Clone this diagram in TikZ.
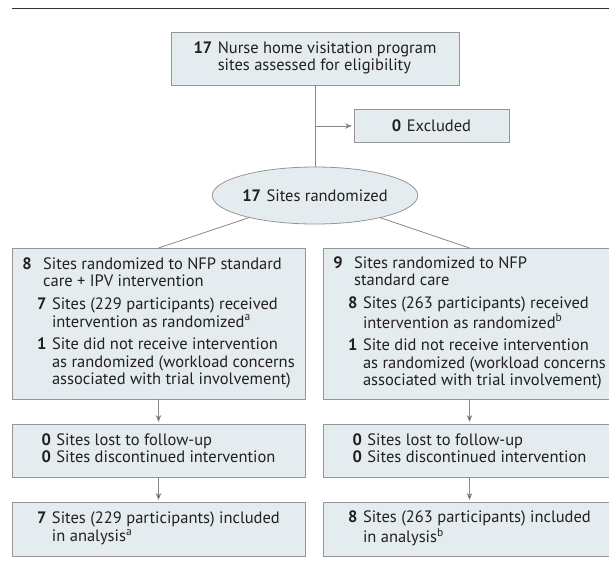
\documentclass[tikz,border=0pt]{standalone}
\usepackage{fontspec}
\setmainfont{PT Sans}
\usetikzlibrary{arrows.meta,positioning,shapes.geometric}

\definecolor{boxfill}{RGB}{229,236,240}
\definecolor{boxline}{RGB}{150,150,150}
\definecolor{flowline}{RGB}{135,135,135}
\definecolor{inktext}{RGB}{35,31,32}

\begin{document}
\begin{tikzpicture}[
	x = 1pt, y = 1pt,
	> = {Stealth[length=7pt, width=5.5pt]}, % arrow head style
	font = \fontsize{16.5}{17.7}\selectfont,
	B/.style={rectangle, draw=boxline, fill=boxfill, line width=0.8pt, inner sep=0pt, outer sep=0pt, minimum width=293pt, text=inktext},
	E/.style={ellipse, draw=boxline, fill=boxfill, line width=0.8pt, inner sep=0pt, outer sep=0pt, minimum width=204pt, minimum height=57pt, text=inktext},
	L/.style={draw=flowline, line width=0.8pt},
	A/.style={L, ->, shorten > = 2pt}, % don't touch arrow head to box
	]

	\useasboundingbox (0,0) rectangle (609,-573);
	\clip (0,0) rectangle (609,-573);

	% rule over the figure
	\coordinate (ruleA) at (12,-8.5);
	\coordinate (ruleB) at (609,-8.5);
	\draw[line width=1.6pt, draw=black!80] (ruleA) -- (ruleB);

	% Nodes and their relative positions
	% enrollment
	\node[B, minimum width=288pt, minimum height=53pt] (elig) at (315,-58.5) {%
		\begin{tabular}{@{}l@{\hspace{5.5pt}}l@{}}
			\textbf{17} & Nurse home visitation program\\
			& sites assessed for eligibility
		\end{tabular}};
	\coordinate[below = 41pt of elig] (split);
	\node[B, minimum width=155pt, minimum height=33pt, anchor=west] (excl) [right = 39pt of split] {\textbf{0}\hspace{5.5pt}Excluded};
	\node[E] (rand) [below = 82pt of elig] {\textbf{17}\hspace{5.5pt}Sites randomized};

	% allocation
	\node[B, minimum height=151pt] (armL) [below = 24pt of rand, xshift=-156.5pt] {%
		\begin{tabular}{@{}l@{\hspace{5.5pt}}l@{\hspace{5.5pt}}l@{}}
			\textbf{8} & \multicolumn{2}{l@{}}{Sites randomized to NFP standard}\\
			& \multicolumn{2}{l@{}}{care + IPV intervention}\\[4.8pt]
			& \textbf{7} & Sites (229 participants) received\\
			& & intervention as randomized\textsuperscript{a}\\[4.8pt]
			& \textbf{1} & Site did not receive intervention\\
			& & as randomized (workload concerns\\
			& & associated with trial involvement)
		\end{tabular}};
	\node[B, minimum height=151pt] (armR) [below = 24pt of rand, xshift=154.5pt] {%
		\begin{tabular}{@{}l@{\hspace{5.5pt}}l@{\hspace{5.5pt}}l@{}}
			\textbf{9} & \multicolumn{2}{l@{}}{Sites randomized to NFP}\\
			& \multicolumn{2}{l@{}}{standard care}\\[4.8pt]
			& \textbf{8} & Sites (263 participants) received\\
			& & intervention as randomized\textsuperscript{b}\\[4.8pt]
			& \textbf{1} & Site did not receive intervention\\
			& & as randomized (workload concerns\\
			& & associated with trial involvement)
		\end{tabular}};

	% follow-up
	\node[B, minimum height=53pt] (lossL) [below = 25pt of armL] {%
		\begin{tabular}{@{}l@{\hspace{5.5pt}}l@{}}
			\textbf{0} & Sites lost to follow-up\\
			\textbf{0} & Sites discontinued intervention
		\end{tabular}};
	\node[B, minimum height=53pt] (lossR) [below = 25pt of armR] {%
		\begin{tabular}{@{}l@{\hspace{5.5pt}}l@{}}
			\textbf{0} & Sites lost to follow-up\\
			\textbf{0} & Sites discontinued intervention
		\end{tabular}};

	% analysis
	\node[B, minimum height=54pt] (analL) [below = 25pt of lossL] {%
		\begin{tabular}{@{}l@{\hspace{5.5pt}}l@{}}
			\textbf{7} & Sites (229 participants) included\\
			& in analysis\textsuperscript{a}
		\end{tabular}};
	\node[B, minimum height=54pt] (analR) [below = 25pt of lossR] {%
		\begin{tabular}{@{}l@{\hspace{5.5pt}}l@{}}
			\textbf{8} & Sites (263 participants) included\\
			& in analysis\textsuperscript{b}
		\end{tabular}};

	% Paths connecting nodes
	\draw[L] (elig) -- (rand);
	\draw[A] (split) -- (excl);
	\draw[L] (armL.north) -- (rand);
	\draw[L] (armR.north) -- (rand);
	\path[A] (armL) edge (lossL);
	\path[A] (armR) edge (lossR);
	\path[A] (lossL) edge (analL);
	\path[A] (lossR) edge (analR);

\end{tikzpicture}
\end{document}
